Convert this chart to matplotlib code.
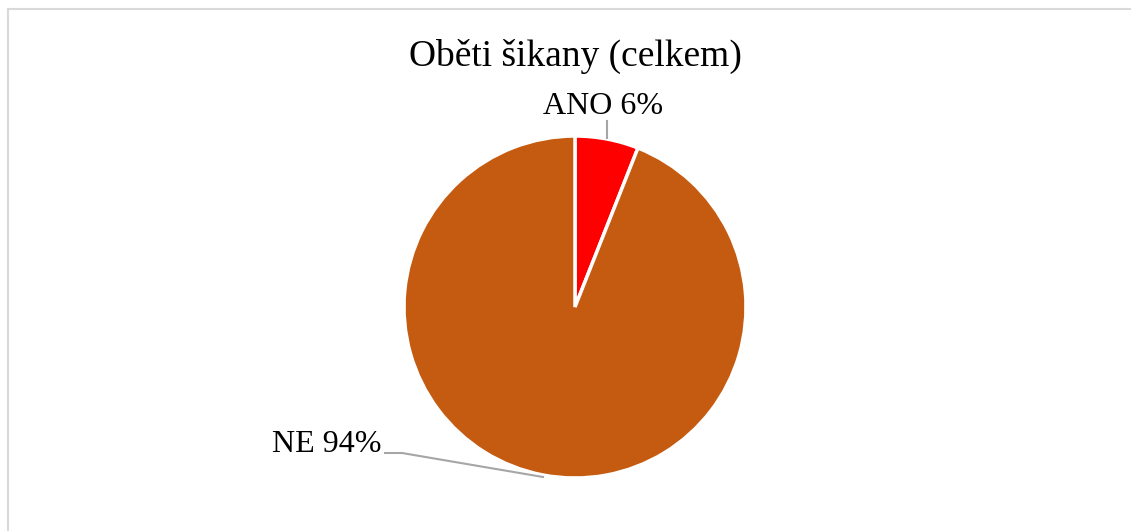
import matplotlib
matplotlib.use("Agg")
import matplotlib.pyplot as plt
from matplotlib.lines import Line2D

title = "Oběti šikany (celkem)"
categories = ["ANO", "NE"]
values = [6, 94]
colors = ["#FF0000", "#C55A11"]

W, H = 1131, 531
fig = plt.figure(figsize=(W / 100, H / 100), dpi=100)
plt.rcParams['font.family'] = ['Liberation Serif', 'DejaVu Serif']

cx, cy, r = 575, 307, 171
ax = fig.add_axes([(cx - r) / W, (H - cy - r) / H, 2 * r / W, 2 * r / H])
wedges, _ = ax.pie(values, colors=colors, startangle=90, counterclock=False,
                   wedgeprops=dict(edgecolor="white", linewidth=2.5))
ax.set_xlim(-1, 1)
ax.set_ylim(-1, 1)
ax.set_aspect('auto')
ax.axis('off')

def d(px, py):
    return ((px - cx) / r, (cy - py) / r)

# labels
lx, ly = d(603, 106)
ax.text(lx, ly, f"{categories[0]} {values[0]}%", ha="center", va="center",
        fontsize=23, color="black", clip_on=False)
p1, p2 = d(607, 121), d(607, 138)
ax.add_line(Line2D([p1[0], p2[0]], [p1[1], p2[1]], color="#A6A6A6", lw=1.5, clip_on=False))

lx, ly = d(327, 445)
ax.text(lx, ly, f"{categories[1]} {values[1]}%", ha="center", va="center",
        fontsize=23, color="black", clip_on=False)
q1, q2, q3 = d(385, 453), d(402, 453), d(543, 477)
ax.add_line(Line2D([q1[0], q2[0], q3[0]], [q1[1], q2[1], q3[1]], color="#A6A6A6", lw=1.5, clip_on=False))

fig.text(cx / W, 1 - 56 / H, title, ha="center", va="center", fontsize=27)

# border (top and left visible)
fig.add_artist(Line2D([8 / W, 1], [1 - 9 / H, 1 - 9 / H], color="#D9D9D9", lw=1.5, transform=fig.transFigure))
fig.add_artist(Line2D([8 / W, 8 / W], [0, 1 - 9 / H], color="#D9D9D9", lw=1.5, transform=fig.transFigure))

fig.savefig("out.png", dpi=100)
